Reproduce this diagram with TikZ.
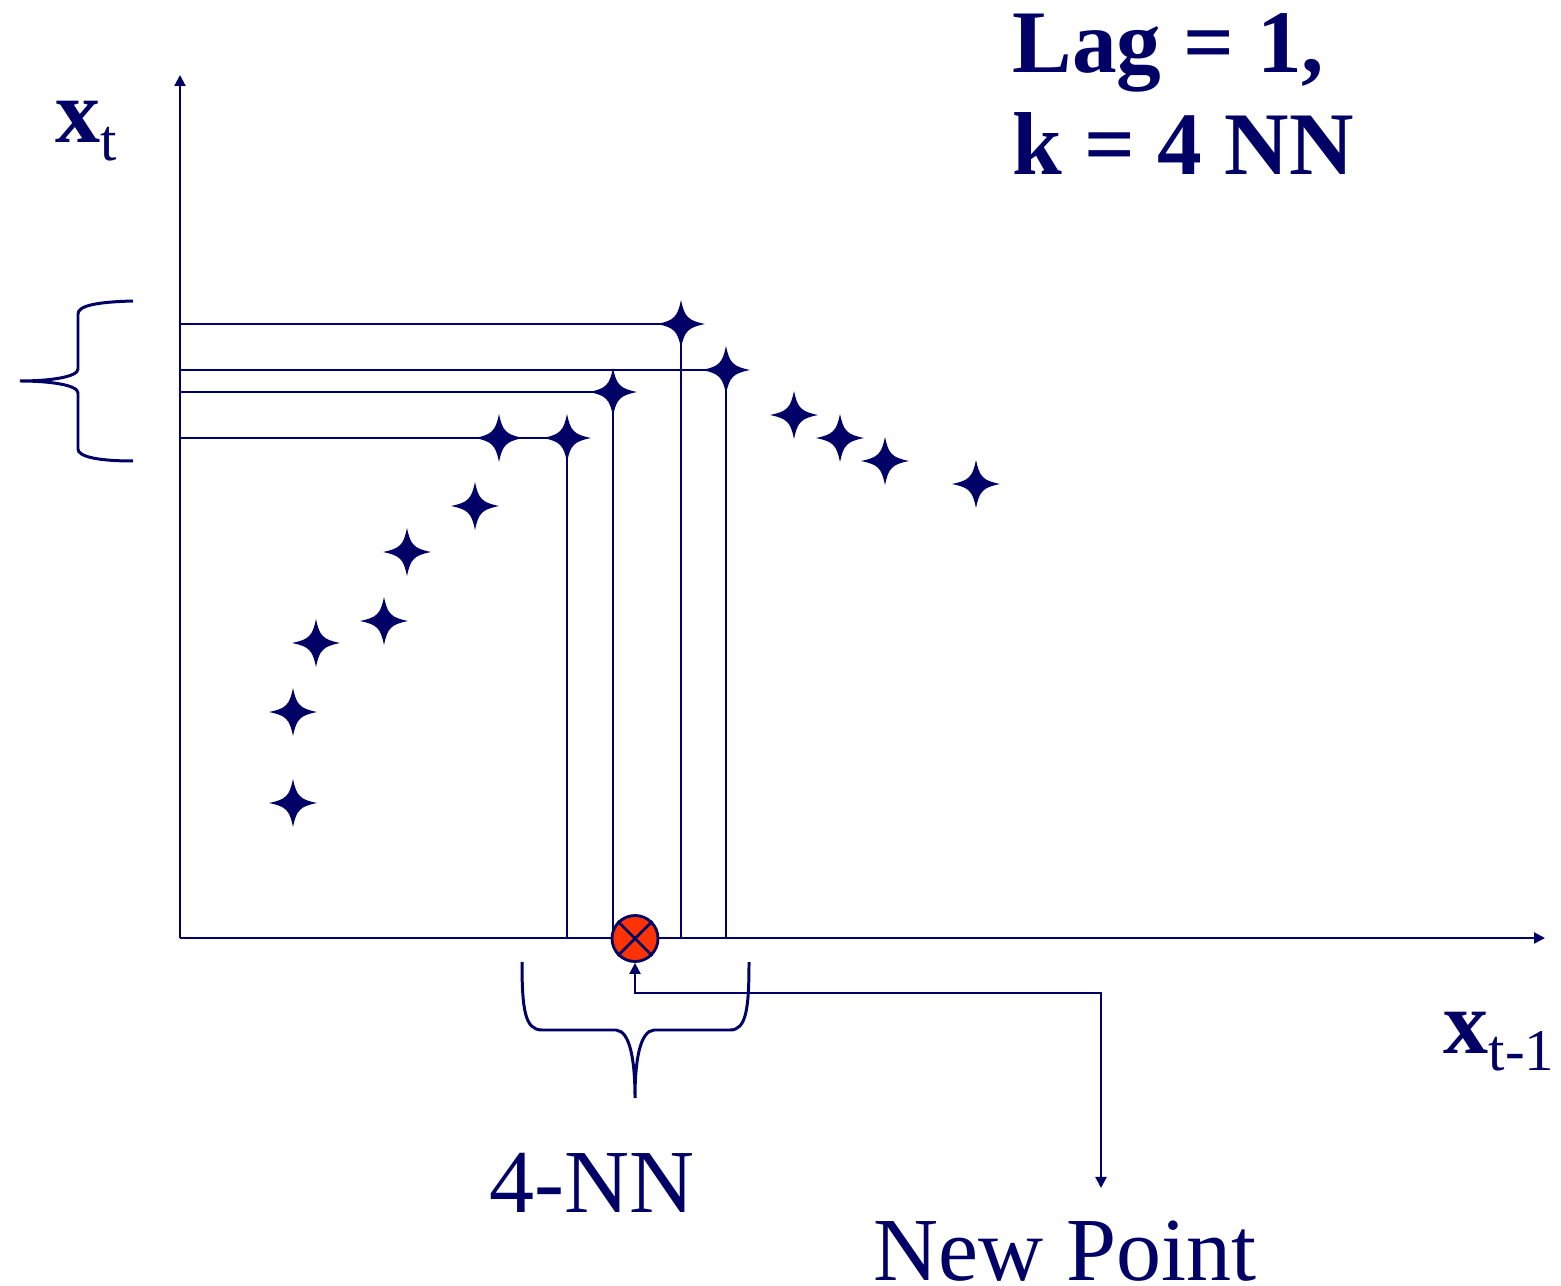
\documentclass[tikz,border=0pt]{standalone}
\usepackage{fontspec}
\setmainfont{Liberation Serif}
\usetikzlibrary{arrows.meta,calc}
\definecolor{navy}{HTML}{000066}
\definecolor{ptred}{HTML}{FF3300}
\begin{document}
\begin{tikzpicture}[x=0.01cm,y=-0.01cm,
  ln/.style={draw=navy,line width=0.6pt},
  bracestyle/.style={draw=navy,line width=0.85pt},
  tri/.tip={Triangle[length=0.11cm,width=0.11cm]},
  lbl/.style={text=navy,inner sep=0pt,anchor=base west,font=\fontsize{25.6}{30}\selectfont},
  ]
\useasboundingbox (0,0) rectangle (1561,1286);
% axes
\coordinate (O) at (180,938);
\coordinate (ytop) at (180,75);
\coordinate (xend) at (1545,938);
\draw[ln,-tri] (O) -- (ytop);
\draw[ln,-tri] (O) -- (xend);
% data points
\foreach \n/\x/\y in {1/681/324,2/726/370,3/613/392,4/499/438,5/567/438,6/794/415,7/840/438,8/885/461,9/976/484,10/475/506,11/407/552,12/384/621,13/316/643,14/293/712,15/293/803}
  \coordinate (s\n) at (\x,\y);
% projection lines
\foreach \n in {1,2,3,5} {
  \draw[ln] (s\n -| O) -- (s\n);
  \draw[ln] (s\n) -- (s\n |- O);
}
% stars
\foreach \n in {1,...,15}
  \fill[navy,shift={(s\n)}] (24,0) .. controls (7,3.5) and (3.5,7) .. (0,24)
     .. controls (-3.5,7) and (-7,3.5) .. (-24,0)
     .. controls (-7,-3.5) and (-3.5,-7) .. (0,-24)
     .. controls (3.5,-7) and (7,-3.5) .. cycle;
% new point
\node[circle,draw=navy,fill=ptred,line width=0.8pt,minimum size=0.46cm,inner sep=0pt] (np) at (635,938.5) {};
\draw[navy,line width=0.8pt] (np.45) -- (np.225) (np.135) -- (np.-45);
% left brace
\coordinate (lb1) at (133,301);
\coordinate (lbtip) at (20,381);
\coordinate (lb2) at (133,461);
\draw[bracestyle] (lb1) .. controls (95,302) and (78,306) .. (78,314) -- (78,369)
   .. controls (78,377) and (50,381) .. (lbtip)
   .. controls (50,381) and (78,385) .. (78,393) -- (78,449)
   .. controls (78,456) and (95,461) .. (lb2);
% bottom brace
\coordinate (bb1) at (522,962);
\coordinate (bbtip) at (635,1098);
\coordinate (bb2) at (749,962);
\draw[bracestyle] (bb1) .. controls (522,1010) and (525,1030) .. (542,1030) -- (616,1030)
   .. controls (630,1031) and (635,1060) .. (bbtip)
   .. controls (635,1060) and (640,1031) .. (654,1030) -- (730,1030)
   .. controls (746,1030) and (749,1010) .. (bb2);
% arrow to new point label
\coordinate (bend1) at (635,993);
\coordinate (bend2) at (1101,993);
\coordinate (npend) at (1101,1188);
\draw[ln,tri-tri] (np.south) -- (bend1) -- (bend2) -- (npend);
% labels
\node[lbl] (xt) at (55,143) {\textbf{x}\raisebox{-0.18cm}{\fontsize{16.8}{20}\selectfont t}};
\node[lbl] (xt1) at (1443,1053) {\textbf{x}\raisebox{-0.17cm}{\fontsize{16.8}{20}\selectfont t-1}};
\node[lbl,font=\fontsize{25.4}{30}\selectfont\bfseries] (lag) at (1012,73) {Lag = 1,};
\node[lbl,font=\fontsize{25.4}{30}\selectfont\bfseries] (k) at (1012,175) {k = 4 NN};
\node[lbl] (nn) at (489,1212) {4-NN};
\node[lbl] (newp) at (873,1280) {New Point};
\end{tikzpicture}
\end{document}
